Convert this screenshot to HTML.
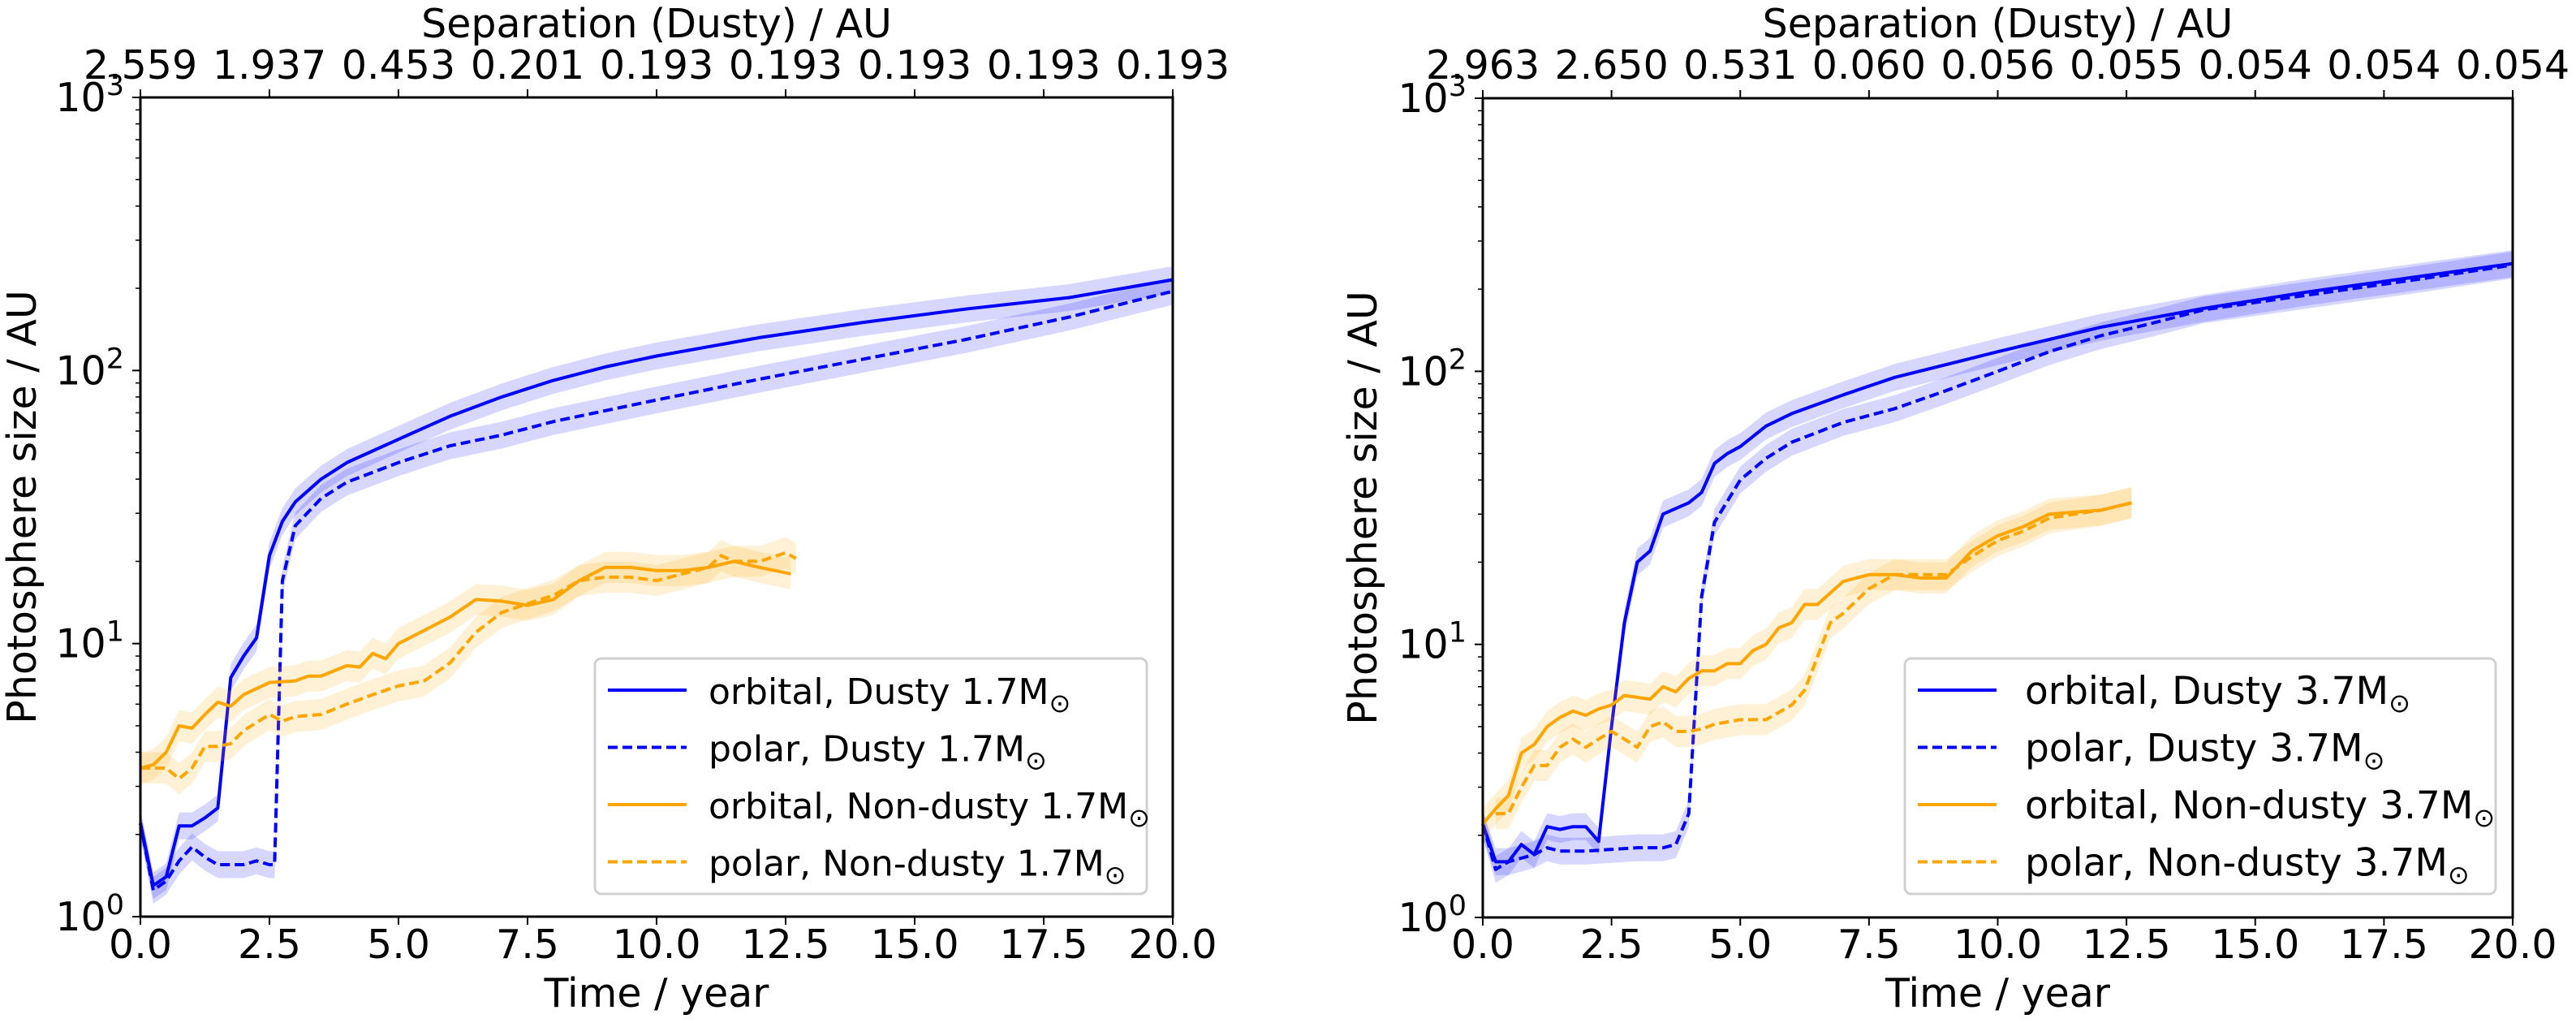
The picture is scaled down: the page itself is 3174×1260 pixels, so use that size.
<!DOCTYPE html>
<html><head><meta charset="utf-8"><style>
html,body{margin:0;padding:0;background:#fff;}
svg{display:block;font-family:"DejaVu Sans","Liberation Sans",sans-serif;}
</style></head><body>
<svg id="fig" width="3174" height="1260" viewBox="0 0 3174 1260" xmlns="http://www.w3.org/2000/svg"></svg>
<script>
// ---- Data: left panel (1.7 Msun) ----
const L_orbD_t = [0,0.25,0.5,0.75,1,1.25,1.5,1.75,2,2.25,2.5,2.75,3,3.5,4,5,6,7,8,9,10,12,14,16,18,20];
const L_orbD_v = [2.2,1.3,1.4,2.15,2.15,2.3,2.5,7.5,9,10.5,21,28,33,40,46,56,68,80,92,103,113,132,150,168,185,215];
const L_polD_t = [0,0.25,0.5,0.75,1,1.25,1.5,2,2.25,2.5,2.6,2.75,3,3.5,4,5,6,7,8,10,12,14,16,18,20];
const L_polD_v = [2.2,1.25,1.35,1.6,1.8,1.65,1.55,1.55,1.6,1.55,1.55,17,27,34,39,46,53,58,65,78,93,110,130,157,195];
const L_orbN_t = [0,0.25,0.5,0.75,1,1.25,1.5,1.75,2,2.5,3,3.25,3.5,4,4.25,4.5,4.75,5,6,6.5,7,7.5,8,8.5,9,9.5,10,10.5,11,11.5,12,12.6];
const L_orbN_v = [3.5,3.6,4,5,4.9,5.5,6.1,5.9,6.5,7.2,7.3,7.6,7.6,8.3,8.2,9.2,8.8,10,12.5,14.5,14.3,13.8,14.5,17,19,19,18.5,18.5,19,20,19,18];
const L_polN_t = [0,0.25,0.5,0.75,1,1.25,1.5,1.75,2,2.5,2.75,3,3.5,4,4.5,5,5.5,6,6.5,7,7.5,8,8.5,9,9.5,10,10.5,11,11.25,11.5,12,12.5,12.7];
const L_polN_v = [3.5,3.5,3.5,3.2,3.5,4.2,4.2,4.3,4.8,5.5,5.2,5.4,5.5,6,6.5,7,7.3,8.5,11,13,14,15,17,17.5,17.5,17,18,19,21,20,20,21.5,20.5];
const L_sepLabels = ["2.559","1.937","0.453","0.201","0.193","0.193","0.193","0.193","0.193"];
// ---- Data: right panel (3.7 Msun) ----
const R_orbD_t = [0,0.25,0.5,0.75,1,1.25,1.5,1.75,2,2.25,2.5,2.75,3,3.25,3.5,4,4.25,4.5,4.75,5,5.5,6,7,8,10,12,14,16,18,20];
const R_orbD_v = [2.2,1.6,1.6,1.85,1.7,2.15,2.1,2.15,2.15,1.9,5,12,20,22,30,33,36,46,50,53,63,70,82,95,118,145,170,195,220,248];
const R_polD_t = [0,0.25,0.5,1,1.25,1.5,2,3,3.5,3.75,4,4.1,4.25,4.5,5,5.5,6,7,8,9,10,11,12,13,14,16,18,20];
const R_polD_v = [2.2,1.5,1.6,1.7,1.8,1.75,1.75,1.8,1.8,1.85,2.4,5,15,28,40,48,55,65,73,85,100,118,135,150,168,190,215,245];
const R_orbN_t = [0,0.25,0.5,0.75,1,1.25,1.5,1.75,2,2.25,2.5,2.75,3,3.25,3.5,3.75,4,4.25,4.5,4.75,5,5.25,5.5,5.75,6,6.25,6.5,7,7.5,8,8.5,9,9.5,10,10.5,11,11.5,12,12.6];
const R_orbN_v = [2.2,2.5,2.8,4,4.3,5,5.4,5.7,5.5,5.8,6,6.5,6.4,6.3,7,6.7,7.5,8,8,8.5,8.5,9.5,10,11.5,12,14,14,17,18,18,17.5,17.5,22,25,27,30,30.5,31,33];
const R_polN_t = [0.25,0.5,0.75,1,1.25,1.5,1.75,2,2.25,2.5,2.75,3,3.25,3.5,3.75,4,4.25,4.5,5,5.5,6,6.25,6.5,6.75,7,7.5,8,8.5,9,9.5,10,10.5,11,11.5,12,12.6];
const R_polN_v = [2.4,2.4,3,3.6,3.6,4.2,4.5,4.2,4.5,4.8,4.5,4.2,5,5.2,4.8,4.8,4.9,5.1,5.3,5.3,6,6.8,9,12,13,16,18,18,18,21,24,26,29,30,31,33];
const R_sepLabels = ["2.963","2.650","0.531","0.060","0.056","0.055","0.054","0.054","0.054"];
const xTickVals = [0,2.5,5,7.5,10,12.5,15,17.5,20];
const xTickLabels = ["0.0","2.5","5.0","7.5","10.0","12.5","15.0","17.5","20.0"];
const yDecades = [0,1,2,3];

const NS="http://www.w3.org/2000/svg";
const svg=document.getElementById('fig');
function mk(tag,attrs,parent,text){const e=document.createElementNS(NS,tag);for(const k in attrs)e.setAttribute(k,attrs[k]);if(text!==undefined)e.textContent=text;(parent||svg).appendChild(e);return e;}

function panel(p){
  const g=mk('g',{});
  
  
  const sx=t=>p.x0+(p.x1-p.x0)*t/20;
  const sy=v=>p.y1-(p.y1-p.y0)*Math.log10(v)/3;
  const series=[
    {t:p.orbD_t,v:p.orbD_v,c:'#0000ff',f:'rgba(0,0,255,0.16)',d:null,w:0.12,n:'orbital-dusty-line'},
    {t:p.polD_t,v:p.polD_v,c:'#0000ff',f:'rgba(0,0,255,0.16)',d:'12,6',w:0.12,n:'polar-dusty-line'},
    {t:p.orbN_t,v:p.orbN_v,c:'#ffa500',f:'rgba(255,165,0,0.16)',d:null,w:0.14,n:'orbital-nondusty-line'},
    {t:p.polN_t,v:p.polN_v,c:'#ffa500',f:'rgba(255,165,0,0.16)',d:'12,6',w:0.14,n:'polar-nondusty-line'}];
  series.forEach(s=>{
    let up=s.t.map((t,i)=>sx(t)+','+sy(s.v[i]*(1+s.w)));
    let lo=s.t.map((t,i)=>sx(t)+','+sy(s.v[i]/(1+s.w))).reverse();
    const band=mk('polygon',{points:up.concat(lo).join(' '),fill:s.f,stroke:'none'},g);
    
    
    const a={points:s.t.map((t,i)=>sx(t)+','+sy(s.v[i])).join(' '),fill:'none',stroke:s.c,'stroke-width':4,'stroke-linejoin':'round'};
    if(s.d)a['stroke-dasharray']=s.d;
    const pl=mk('polyline',a,g);
    
    
  });
  const fr=mk('rect',{x:p.x0,y:p.y0,width:p.x1-p.x0,height:p.y1-p.y0,fill:'none',stroke:'#000','stroke-width':3},g);
  
  
  xTickVals.forEach((t,i)=>{
    const x=sx(t);
    mk('line',{x1:x,x2:x,y1:p.y1,y2:p.y1+10,stroke:'#000','stroke-width':2},g);
    mk('line',{x1:x,x2:x,y1:p.y0,y2:p.y0-10,stroke:'#000','stroke-width':2},g);
    const tl=mk('text',{x:x,y:1180,'text-anchor':'middle','font-size':49},g,xTickLabels[i]);
    
    
    const st=mk('text',{x:x,y:97,'text-anchor':'middle','font-size':49},g,p.sep[i]);
    
    
  });
  yDecades.forEach(d=>{
    const y=sy(Math.pow(10,d));
    mk('line',{x1:p.x0-10,x2:p.x0,y1:y,y2:y,stroke:'#000','stroke-width':2},g);
    const yl=mk('text',{x:p.x0-20,y:y+17,'text-anchor':'end','font-size':49},g);
    
    
    mk('tspan',{},yl,'10');
    mk('tspan',{dy:-20,'font-size':35},yl,String(d));
    if(d<3)for(let m=2;m<10;m++){const ym=sy(m*Math.pow(10,d));mk('line',{x1:p.x0-6,x2:p.x0,y1:ym,y2:ym,stroke:'#000','stroke-width':1.5},g);}
  });
  const cx=(p.x0+p.x1)/2;
  const xt=mk('text',{x:cx,y:1240,'text-anchor':'middle','font-size':49},g,'Time / year');
  
  
  const tt=mk('text',{x:cx,y:46,'text-anchor':'middle','font-size':49},g,'Separation (Dusty) / AU');
  
  
  const yt=mk('text',{x:p.ylx,y:(p.y0+p.y1)/2,'text-anchor':'middle','font-size':49,transform:`rotate(-90 ${p.ylx} ${(p.y0+p.y1)/2})`},g,'Photosphere size / AU');
  
  
  const lg=mk('g',{},g);
  
  
  mk('rect',{x:p.lx,y:811,width:p.lw,height:290,rx:8,fill:'rgba(255,255,255,0.85)',stroke:'#d0d0d0','stroke-width':3},lg);
  const labs=['orbital, Dusty ','polar, Dusty ','orbital, Non-dusty ','polar, Non-dusty '];
  series.forEach((s,i)=>{
    const y=850+i*70.5;
    const a={x1:p.lx+16,x2:p.lx+113,y1:y,y2:y,stroke:s.c,'stroke-width':4};
    if(s.d)a['stroke-dasharray']='12,6';
    mk('line',a,lg);
    const t=mk('text',{x:p.lx+p.tx,y:y+17,'font-size':p.lf},lg);
    
    
    mk('tspan',{},t,labs[i]+p.mass+'M');
    mk('tspan',{dy:10,'font-size':32},t,'\u2299');
  });
}
panel({name:'left-panel',x0:173,x1:1445,y0:120,y1:1129,ylx:44,lx:733,lw:680,tx:140,lf:44,mass:'1.7',sep:L_sepLabels,
  orbD_t:L_orbD_t,orbD_v:L_orbD_v,polD_t:L_polD_t,polD_v:L_polD_v,orbN_t:L_orbN_t,orbN_v:L_orbN_v,polN_t:L_polN_t,polN_v:L_polN_v});
panel({name:'right-panel',x0:1827,x1:3096,y0:121,y1:1130,ylx:1696,lx:2347,lw:728,tx:148,lf:47,mass:'3.7',sep:R_sepLabels,
  orbD_t:R_orbD_t,orbD_v:R_orbD_v,polD_t:R_polD_t,polD_v:R_polD_v,orbN_t:R_orbN_t,orbN_v:R_orbN_v,polN_t:R_polN_t,polN_v:R_polN_v});
</script>
</body></html>
